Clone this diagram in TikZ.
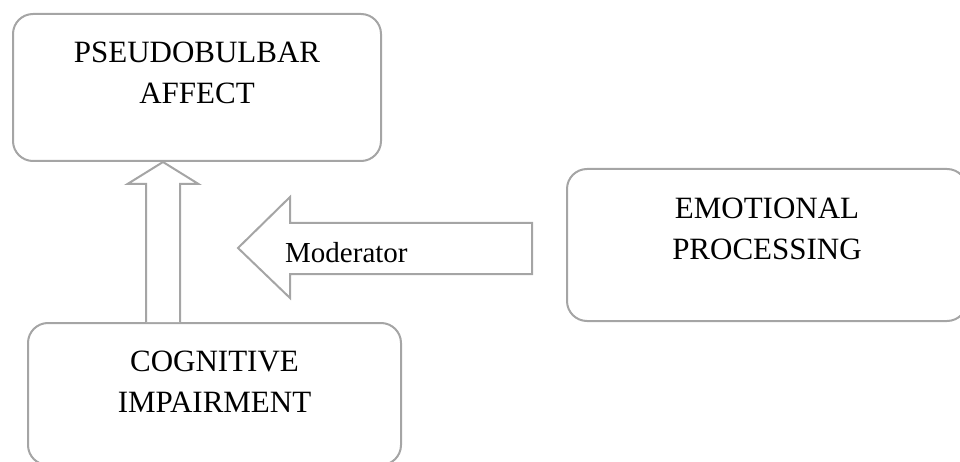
\documentclass[tikz,border=0pt]{standalone}
\usepackage{fontspec}
\setmainfont{Liberation Serif}
\usetikzlibrary{calc}
\definecolor{edgegray}{RGB}{165,165,165}
\tikzset{
  box/.style={draw=edgegray, line width=2pt, rounded corners=20pt, anchor=north west, inner sep=0pt},
  lbl/.style={align=center, inner sep=0pt, anchor=north, font=\fontsize{31}{41}\selectfont, text=black},
  blockarrow/.style={draw=edgegray, line width=2pt, fill=white, line join=miter},
  modlbl/.style={anchor=base west, inner sep=0pt, font=\fontsize{29}{35}\selectfont, text=black}
}
\begin{document}
\begin{tikzpicture}[x=1pt,y=-1pt]
\useasboundingbox (0,0) rectangle (960,462);
% boxes
\node[box, minimum width=368pt, minimum height=147pt] (pba) at (12,13) {};
\node[box, minimum width=373pt, minimum height=142pt] (cog) at (27,322) {};
\node[box, minimum width=400pt, minimum height=152pt] (emo) at (566,168) {};
% labels
\node[lbl] (pbaText) at ([yshift=-28.5pt]pba.north) {PSEUDOBULBAR\\AFFECT};
\node[lbl] (cogText) at ([yshift=-29pt]cog.north) {COGNITIVE\\IMPAIRMENT};
\node[lbl] (emoText) at ([yshift=-29.5pt]emo.north) {EMOTIONAL\\PROCESSING};
% up block arrow from cognitive impairment to pseudobulbar affect
\path (163,0) coordinate (ux);
\coordinate (upTip) at (pba.south -| ux);
\coordinate (upBase) at (cog.north -| ux);
\draw[blockarrow] (upBase) ++(-17,0) -- ($(upTip)+(-17,22)$) -- ($(upTip)+(-35.5,22)$) -- (upTip)
  -- ($(upTip)+(35.5,22)$) -- ($(upTip)+(17,22)$) -- ($(upBase)+(17,0)$);
% moderator block arrow (from emotional processing, pointing left)
\coordinate (modTip) at (238,248);
\coordinate (modTail) at (532,248);
\draw[blockarrow] (modTip) -- ($(modTip)+(52,-51)$) -- ($(modTip)+(52,-25)$) -- ($(modTail)+(0,-25)$)
  -- ($(modTail)+(0,26)$) -- ($(modTip)+(52,26)$) -- ($(modTip)+(52,50)$) -- cycle;
\node[modlbl] (modText) at (285,262) {Moderator};
\end{tikzpicture}
\end{document}
